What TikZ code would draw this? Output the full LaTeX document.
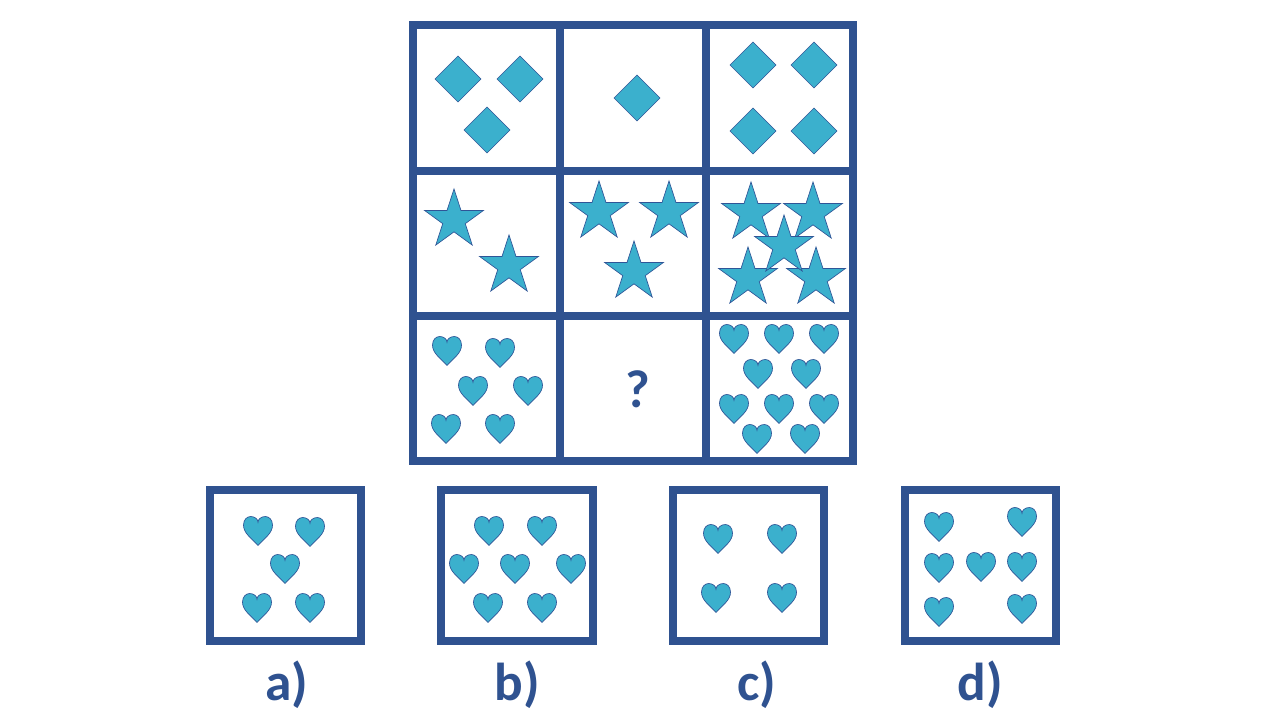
\documentclass[tikz,border=0pt]{standalone}
\usepackage{fontspec}
\newfontfamily\labelfont{Carlito}
\definecolor{frameblue}{HTML}{2F5290}
\definecolor{shapefill}{HTML}{3BB0CD}
\definecolor{shapeline}{HTML}{2F5597}
\tikzset{
  framesty/.style={draw=frameblue, line width=6pt},
  shapesty/.style={fill=shapefill, draw=shapeline, line width=0.5pt, line join=miter},
  lbl/.style={text=frameblue, font=\labelfont\bfseries\fontsize{40}{40}\selectfont, inner sep=0pt, anchor=base},
  heartpic/.pic={
    \path[shapesty, scale=14.5] (0,1) .. controls (-0.45,0.5) and (-1,0.15) .. (-1,-0.4)
      .. controls (-1,-0.8) and (-0.75,-1) .. (-0.5,-1)
      .. controls (-0.2,-1) and (0,-0.8) .. (0,-0.6)
      .. controls (0,-0.8) and (0.2,-1) .. (0.5,-1)
      .. controls (0.75,-1) and (1,-0.8) .. (1,-0.4)
      .. controls (1,0.15) and (0.45,0.5) .. (0,1) -- cycle;
  },
  diamondpic/.pic={
    \path[shapesty] (0,-23) -- (23,0) -- (0,23) -- (-23,0) -- cycle;
  },
  starpic/.pic={
    \path[shapesty] (-90:31) -- (-54:11.84) -- (-18:31) -- (18:11.84) -- (54:31)
      -- (90:11.84) -- (126:31) -- (162:11.84) -- (198:31) -- (234:11.84) -- cycle;
  }
}
\begin{document}
\begin{tikzpicture}[x=0.75pt, y=-0.75pt]
\useasboundingbox (0,0) rectangle (1280,720);
% main grid
\draw[framesty] (413,25) rectangle (853,461);
\draw[framesty] (560,25) -- (560,461);
\draw[framesty] (706,25) -- (706,461);
\draw[framesty] (413,171) -- (853,171);
\draw[framesty] (413,316) -- (853,316);
% row 1 diamonds
\foreach \p in {(458,79),(520,79),(487,130),(637,98),(753,65),(814,65),(753,131),(814,131)}
  \pic at \p {diamondpic};
% row 2 stars
\foreach \p in {(454,220),(509,266),(599,212),(669,212),(634,272),(751,213),(813,213),(748,278),(816,278),(784,246)}
  \pic at \p {starpic};
% row 3 hearts
\foreach \p in {(447,351),(500,353),(473,391),(528,391),(446,429),(500,429),
  (734,339),(779,339),(824,339),(758,374),(806,374),(734,409),(779,409),(824,409),(757,439),(805,439)}
  \pic at \p {heartpic};
\node[lbl] (q) at (638,407) {?};
% option boxes
\draw[framesty] (210,490) rectangle (361,641);
\draw[framesty] (441,490) rectangle (593,641);
\draw[framesty] (673,490) rectangle (824,641);
\draw[framesty] (905,490) rectangle (1056,641);
% option a
\foreach \p in {(258,531),(310,532),(285,569),(257,608),(310,608)}
  \pic at \p {heartpic};
% option b
\foreach \p in {(489,531),(542,531),(464,569),(515,569),(571,569),(488,608),(542,608)}
  \pic at \p {heartpic};
% option c
\foreach \p in {(718,539),(782,539),(716,598),(782,598)}
  \pic at \p {heartpic};
% option d
\foreach \p in {(939,527),(1022,522),(939,568),(981,567),(1022,567),(939,612),(1022,609)}
  \pic at \p {heartpic};
% labels
\node[lbl] (la) at (287,700) {a)};
\node[lbl] (lb) at (517,700) {b)};
\node[lbl] (lc) at (757,700) {c)};
\node[lbl] (ld) at (980,700) {d)};
\end{tikzpicture}
\end{document}
